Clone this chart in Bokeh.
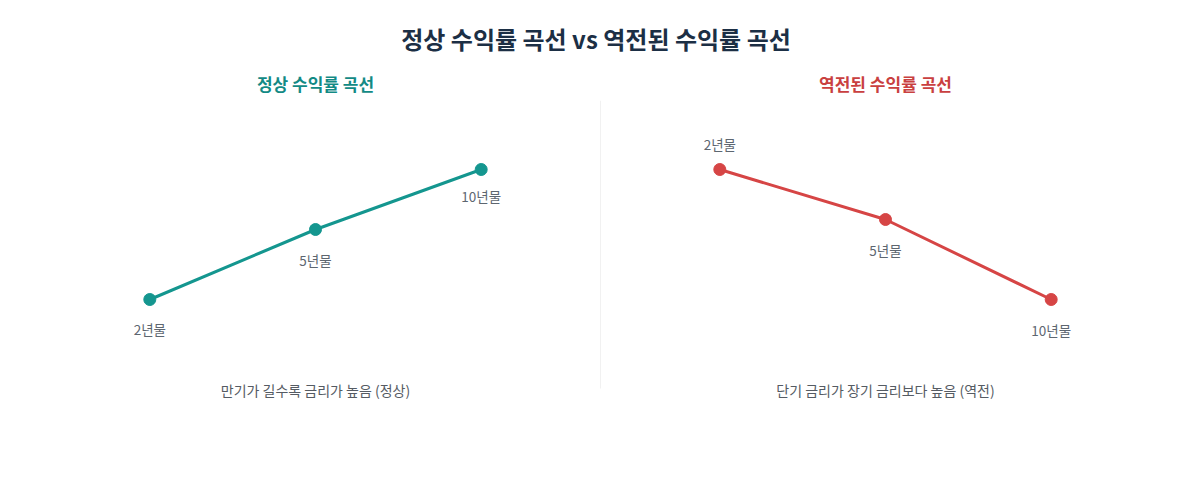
from bokeh.plotting import figure
from bokeh.layouts import column, row
from bokeh.models import ColumnDataSource, Range1d, Label, Div
from bokeh.core.properties import value
from bokeh.embed import file_html
from bokeh.resources import INLINE

# données (indice de maturité, rendement arbitraire)
maturities = ["2년물", "5년물", "10년물"]
normal_yield = [1.5, 2.2, 2.8]
inverted_yield = [2.8, 2.3, 1.5]

main_title = "정상 수익률 곡선 vs 역전된 수익률 곡선"
normal_title = "정상 수익률 곡선"
inverted_title = "역전된 수익률 곡선"
normal_caption = "만기가 길수록 금리가 높음 (정상)"
inverted_caption = "단기 금리가 장기 금리보다 높음 (역전)"

FONT = "Noto Sans CJK KR"
Y0, Y1 = 0.39, 3.49


def make_panel(yields, title, caption, color, title_color, label_offsets, left, right):
    src = ColumnDataSource(dict(x=list(range(len(maturities))), y=yields,
                                label=maturities, off=label_offsets))
    p = figure(width=570 + left + right, height=387, output_backend="svg", toolbar_location=None,
               x_range=Range1d(-0.72, 2.72), y_range=Range1d(Y0, Y1),
               min_border_left=left, min_border_right=right,
               min_border_top=37, min_border_bottom=40)
    p.title.text = title
    p.title.align = "center"
    p.title.text_font = FONT
    p.title.text_font_size = "17px"
    p.title.text_font_style = "bold"
    p.title.text_color = title_color
    p.title.standoff = 9
    p.axis.visible = False
    p.grid.visible = False
    p.outline_line_color = None

    p.line("x", "y", source=src, line_width=3, color=color)
    p.scatter("x", "y", source=src, size=12, color=color)
    p.text("x", "y", text="label", source=src, y_offset="off",
           text_align="center", text_baseline="middle",
           text_font=value(FONT), text_font_size="13.5px", text_color="#5d6670")

    p.add_layout(Label(x=1, y=0.60, text=caption, text_align="center",
                       text_baseline="middle", text_font=FONT,
                       text_font_size="14px", text_color="#555b63"))
    return p


p1 = make_panel(normal_yield, normal_title, normal_caption, "#14968f", "#138a85",
                [29, 30, 26], 30, 0)
p2 = make_panel(inverted_yield, inverted_title, inverted_caption, "#d64545", "#c94040",
                [-26, 30, 30], 0, 22)
# séparateur vertical entre les deux panneaux
p2.segment(x0=[-0.72], y0=[Y1], x1=[-0.72], y1=[0.61], line_color="#e4e4e4", line_width=1)

head = Div(text=main_title, width=1192, height=63, margin=0,
           styles={"font-family": FONT, "font-size": "24px", "font-weight": "bold",
                   "color": "#1c2f45", "text-align": "center", "padding-top": "22px",
                   "box-sizing": "border-box"})

layout = column(head, row(p1, p2))
open("out.html", "w").write(file_html(layout, INLINE))
